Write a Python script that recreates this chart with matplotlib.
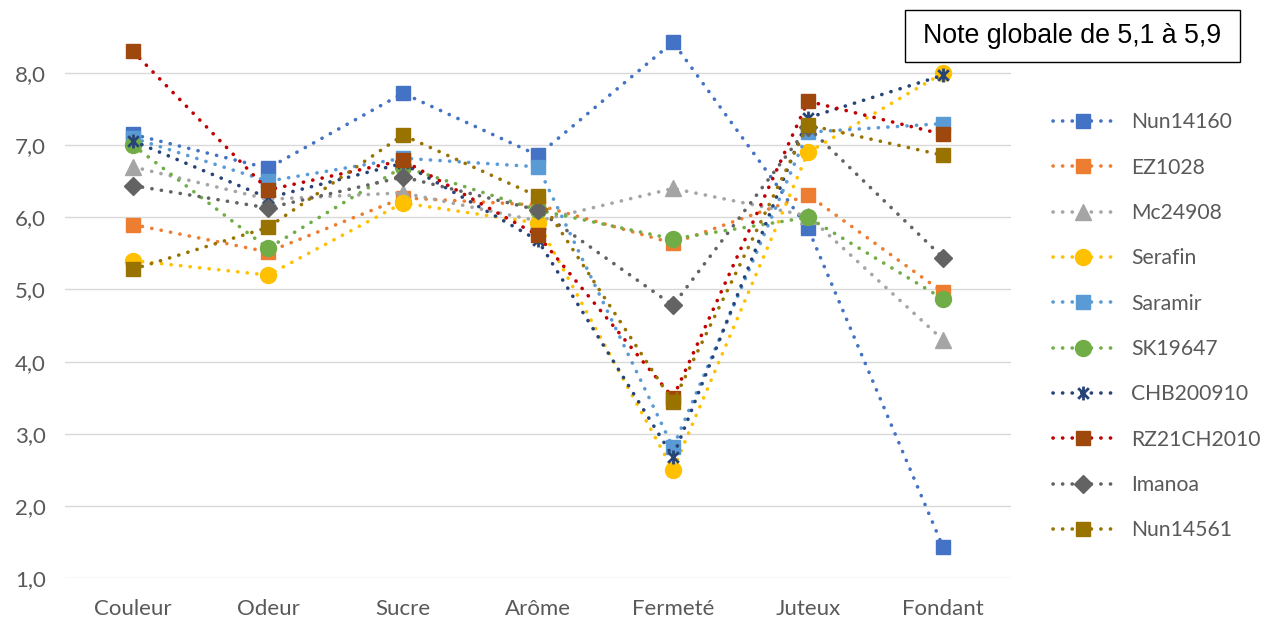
import matplotlib
matplotlib.use("Agg")
import matplotlib.pyplot as plt
from matplotlib.patches import Rectangle
from matplotlib.path import Path
from matplotlib.ticker import FuncFormatter

categories = ["Couleur", "Odeur", "Sucre", "Arôme", "Fermeté", "Juteux", "Fondant"]

nun14160 = [7.15, 6.68, 7.72, 6.86, 8.43, 5.85, 1.43]
ez1028 = [5.90, 5.52, 6.27, 6.17, 5.64, 6.31, 4.96]
mc24908 = [6.70, 6.25, 6.34, 5.95, 6.40, 6.02, 4.30]
serafin = [5.40, 5.20, 6.20, 5.92, 2.50, 6.90, 8.00]
saramir = [7.10, 6.50, 6.82, 6.70, 2.81, 7.18, 7.30]
sk19647 = [7.00, 5.57, 6.70, 6.10, 5.70, 6.00, 4.87]
chb200910 = [7.06, 6.27, 6.75, 5.68, 2.68, 7.38, 7.97]
rz21ch2010 = [8.30, 6.38, 6.79, 5.75, 3.50, 7.61, 7.15]
imanoa = [6.44, 6.13, 6.56, 6.10, 4.78, 7.25, 5.44]
nun14561 = [5.28, 5.86, 7.14, 6.29, 3.44, 7.28, 6.86]

names = ["Nun14160", "EZ1028", "Mc24908", "Serafin", "Saramir",
         "SK19647", "CHB200910", "RZ21CH2010", "Imanoa", "Nun14561"]
series = [nun14160, ez1028, mc24908, serafin, saramir,
          sk19647, chb200910, rz21ch2010, imanoa, nun14561]

# Asterisk marker: an X crossed by a vertical bar
star_path = Path(
    [(-1, -1), (1, 1), (-1, 1), (1, -1), (0, -1.3), (0, 1.3)],
    [Path.MOVETO, Path.LINETO, Path.MOVETO, Path.LINETO, Path.MOVETO, Path.LINETO],
)

styles = [
    dict(line="#4472C4", face="#4472C4", marker="s", ms=10.5),
    dict(line="#ED7D31", face="#ED7D31", marker="s", ms=10.5),
    dict(line="#A5A5A5", face="#A5A5A5", marker="^", ms=11),
    dict(line="#FFC000", face="#FFC000", marker="o", ms=11.5),
    dict(line="#5B9BD5", face="#5B9BD5", marker="s", ms=10.5),
    dict(line="#70AD47", face="#70AD47", marker="o", ms=11.5),
    dict(line="#264478", face="#264478", marker=star_path, ms=10),
    dict(line="#C00000", face="#9E480E", marker="s", ms=10.5),
    dict(line="#636363", face="#636363", marker="D", ms=9),
    dict(line="#997300", face="#997300", marker="s", ms=10.5),
]

LABEL_FONT = ["Lato", "DejaVu Sans"]
LABEL_SIZE = 16
LEGEND_SIZE = 15.2
TEXT_GREY = "#595959"

fig = plt.figure(figsize=(12.66, 6.18), dpi=100)
ax = fig.add_axes([0.0517, 0.0647, 0.7465, 0.9338])

x = list(range(len(categories)))
for name, vals, st in zip(names, series, styles):
    is_star = st["marker"] is star_path
    ax.plot(x, vals, color=st["line"], linewidth=2.6,
            linestyle=(0, (0.05, 2.6)), dash_capstyle="round",
            marker=st["marker"], markersize=st["ms"],
            markerfacecolor=st["face"],
            markeredgecolor=st["face"] if not is_star else st["line"],
            markeredgewidth=1.0 if not is_star else 2.0,
            label=name, zorder=3)

ax.set_xlim(-0.5, len(categories) - 0.5)
ax.set_ylim(1.0, 9.0)
ax.set_yticks([1, 2, 3, 4, 5, 6, 7, 8])
ax.yaxis.set_major_formatter(FuncFormatter(lambda v, p: f"{v:.1f}".replace(".", ",")))
ax.set_xticks(x)
ax.set_xticklabels(categories)
ax.tick_params(axis="both", length=0, labelsize=LABEL_SIZE, colors=TEXT_GREY)
ax.tick_params(axis="x", pad=15)
ax.tick_params(axis="y", pad=14)
for lbl in ax.get_xticklabels() + ax.get_yticklabels():
    lbl.set_family(LABEL_FONT)
ax.grid(axis="y", color="#D9D9D9", linewidth=1.0, zorder=0)
for s in ax.spines.values():
    s.set_visible(False)
ax.set_axisbelow(True)

leg = ax.legend(loc="upper left", bbox_to_anchor=(0.8318, 0.818),
                bbox_transform=fig.transFigure, frameon=False,
                prop=dict(family=LABEL_FONT, size=LEGEND_SIZE),
                handlelength=2.85, labelspacing=1.2,
                handletextpad=0.85, borderaxespad=0, borderpad=0)
for t in leg.get_texts():
    t.set_color(TEXT_GREY)

# Framed note in the upper right corner
fig.patches.append(Rectangle((905 / 1266, 1 - 62 / 618), 335 / 1266, 52 / 618,
                             transform=fig.transFigure, facecolor="white",
                             edgecolor="black", linewidth=1.0, zorder=5))
fig.text(1072.5 / 1266, 1 - 36 / 618, "Note globale de 5,1 à 5,9", fontsize=19.3,
         family=["Liberation Sans", "DejaVu Sans"], color="black",
         ha="center", va="center", zorder=6)

fig.savefig("out.png", dpi=100)
